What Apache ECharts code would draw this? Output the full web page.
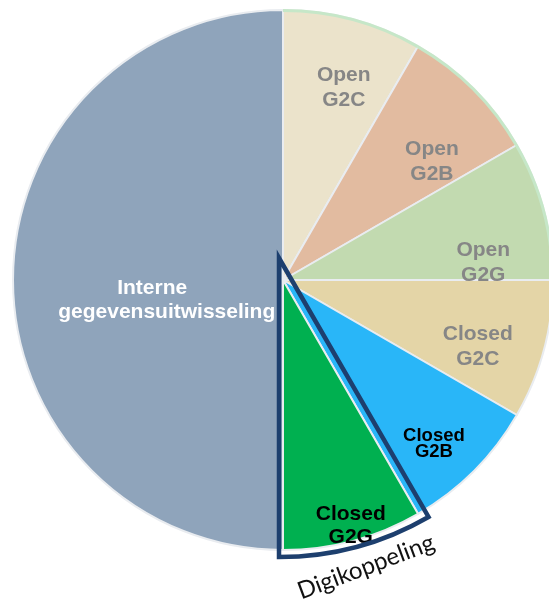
<!DOCTYPE html>
<html><head><meta charset="utf-8">
<script src="https://cdn.jsdelivr.net/npm/echarts@6/dist/echarts.min.js"></script>
<style>html,body{margin:0;padding:0;background:#fff}#c{width:549px;height:602px}</style>
</head><body><div id="c"></div>
<script>
const categories = ['Open G2C','Open G2B','Open G2G','Closed G2C','Closed G2B','Closed G2G','Interne gegevensuitwisseling'];
const labelTexts = ['Open\nG2C','Open\nG2B','Open\nG2G','Closed\nG2C','Closed\nG2B','Closed\nG2G','Interne     \ngegevensuitwisseling'];
const values = [1,1,1,1,1,1,6];
const outlineTitle = 'Digikoppeling';
const outlinedCategory = 'Closed G2G';

const colors = ['#ebe3cb','#e2bba0','#c2dab0','#e4d5a7','#29b6f8','#00b050','#8fa4bb'];
const labelColors = ['#868686','#868686','#868686','#868686','#000','#000','#fff'];
const labelSize = [21,21,21,21,18.5,21,21];
const labelLH = [25,25,25,25,16,23,24];
const labelRadius = [202,190,201,206,223,255,118];
const labelAngleShift = [2.5,6.6,10.1,4.0,2.4,-0.4,-9.8];

const CX = 283, CY = 280, R = 270;
const total = values.reduce((a,b)=>a+b,0);
const mids = [];
let acc = 0;
values.forEach(v => { mids.push((acc + v/2) / total * 360); acc += v; });

const chart = echarts.init(document.getElementById('c'));
const mainData = categories.map((c,i)=>({
  name: c, value: values[i],
  itemStyle: {color: colors[i]},
  label: {formatter: labelTexts[i], color: labelColors[i], fontSize: labelSize[i], lineHeight: labelLH[i]}
}));
chart.setOption({
  animation: false,
  series: [
    {
      type: 'pie', center: [CX, CY], radius: R, startAngle: 90, clockwise: true,
      data: mainData,
      itemStyle: {borderColor: '#e9ecf0', borderWidth: 2},
      label: {show: true, position: 'inside', fontFamily: 'Liberation Sans, Arial, sans-serif', fontWeight: 'bold', align: 'center'},
      labelLine: {show: false},
      labelLayout: function (p) {
        const i = p.dataIndex;
        const a = (mids[i] + labelAngleShift[i]) * Math.PI / 180;
        return {x: CX + labelRadius[i] * Math.sin(a), y: CY - labelRadius[i] * Math.cos(a), align: 'center', verticalAlign: 'middle'};
      },
      emphasis: {disabled: true}, silent: true
    },
    {
      type: 'pie', center: [CX, CY], radius: [R - 2, R + 1], startAngle: 90,
      data: categories.map((c,i)=>({name: c, value: values[i], itemStyle: {color: c.startsWith('Open') ? '#c6e7c8' : 'rgba(0,0,0,0)'}})),
      label: {show: false}, labelLine: {show: false}, emphasis: {disabled: true}, silent: true
    },
    {
      type: 'pie', center: [279, 258], radius: 299, startAngle: 90,
      data: categories.map((c,i)=>({name: c, value: values[i], itemStyle: c === outlinedCategory ?
        {color: 'rgba(0,0,0,0)', borderColor: '#1d3f6e', borderWidth: 4.5, borderJoin: 'miter'} :
        {color: 'rgba(0,0,0,0)', borderWidth: 0}})),
      label: {show: false}, labelLine: {show: false}, emphasis: {disabled: true}, silent: true, z: 5
    }
  ],
  graphic: [{
    type: 'text', x: 366, y: 567, rotation: 20.6 * Math.PI / 180,
    style: {text: outlineTitle, fontFamily: 'Lato, Open Sans, sans-serif', fontSize: 24, fill: '#111', align: 'center', verticalAlign: 'middle'},
    z: 10
  }]
});
</script></body></html>
